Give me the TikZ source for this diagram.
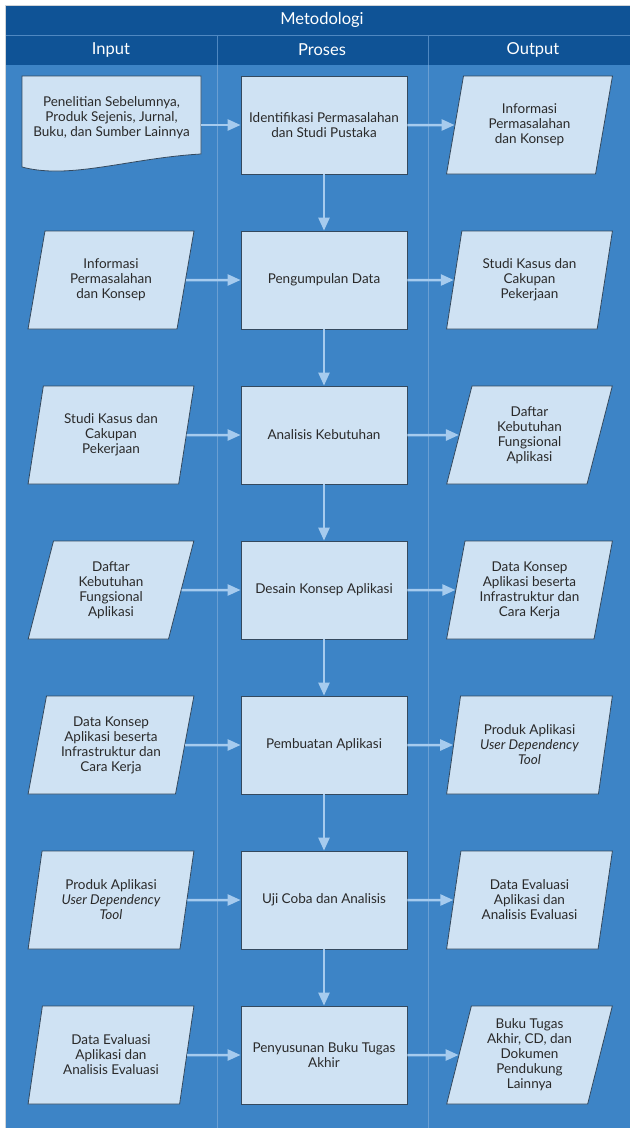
\documentclass[tikz,border=0pt]{standalone}
\usepackage{fontspec}
\setmainfont{Lato}
\usetikzlibrary{shapes.geometric,arrows.meta}

\definecolor{hdr}{HTML}{0F5396}
\definecolor{lane}{HTML}{3D84C6}
\definecolor{boxfill}{HTML}{CFE2F3}
\definecolor{boxline}{HTML}{34495E}
\definecolor{flow}{HTML}{A6CBEE}
\definecolor{sep}{HTML}{6A9FD3}
\definecolor{txt}{HTML}{2A2A2A}
\definecolor{frame}{HTML}{D0D4D8}

\begin{document}
\begin{tikzpicture}[x=1pt,y=-1pt,
  base/.style={fill=boxfill, draw=boxline, line width=0.8pt, text=txt,
    font=\fontsize{13.5}{15}\selectfont, align=center, inner sep=0pt},
  procbox/.style={base, rectangle, minimum width=166pt, minimum height=98pt},
  iobox/.style={base, trapezium, trapezium left angle=76, trapezium right angle=104,
    trapezium stretches=true, minimum width=166pt, minimum height=98pt},
  doctext/.style={text=txt, font=\fontsize{13.5}{15}\selectfont, align=center,
    minimum width=179pt, minimum height=80pt, inner sep=0pt},
  flowarr/.style={draw=flow, line width=2.5pt, -{Triangle[length=13pt,width=11pt]}},
  headtext/.style={text=white, font=\fontsize{16.5}{18}\selectfont},
  lanesep/.style={draw=sep, line width=0.6pt}
]
\useasboundingbox (0,0) rectangle (630,1128);

% lanes and headers
\fill[lane] (5,65) rectangle (630,1128);
\fill[hdr] (5,5) rectangle (630,65);
\draw[lanesep, draw=sep!70!hdr] (5,35) -- (630,35);
\draw[lanesep, draw=sep!70!hdr] (217,35) -- (217,65);
\draw[lanesep, draw=sep!70!hdr] (428,35) -- (428,65);
\draw[lanesep] (217,65) -- (217,1128);
\draw[lanesep] (428,65) -- (428,1128);
\draw[frame, line width=0.8pt] (5,1128) -- (5,5) -- (630,5);

\node[headtext] (title) at (322,20) {Metodologi};
\node[headtext] (hin) at (111,50) {Input};
\node[headtext] (hpro) at (322,50) {Proses};
\node[headtext] (hout) at (533,50) {Output};

% process column
\node[procbox] (c1) at (324,125) {Identifikasi Permasalahan\\dan Studi Pustaka};
\node[procbox] (c2) at (324,280) {Pengumpulan Data};
\node[procbox] (c3) at (324,435) {Analisis Kebutuhan};
\node[procbox] (c4) at (324,590) {Desain Konsep Aplikasi};
\node[procbox] (c5) at (324,745) {Pembuatan Aplikasi};
\node[procbox] (c6) at (324,900) {Uji Coba dan Analisis};
\node[procbox] (c7) at (324,1055) {Penyusunan Buku Tugas\\Akhir};

% output column
\node[iobox] (r1) at (529.5,125) {Informasi\\Permasalahan\\dan Konsep};
\node[iobox] (r2) at (529.5,280) {Studi Kasus dan\\Cakupan\\Pekerjaan};
\node[iobox] (r3) at (529.5,435) {Daftar\\Kebutuhan\\Fungsional\\Aplikasi};
\node[iobox] (r4) at (529.5,590) {Data Konsep\\Aplikasi beserta\\Infrastruktur dan\\Cara Kerja};
\node[iobox] (r5) at (529.5,745) {Produk Aplikasi\\\textit{User Dependency}\\\textit{Tool}};
\node[iobox] (r6) at (529.5,900) {Data Evaluasi\\Aplikasi dan\\Analisis Evaluasi};
\node[iobox] (r7) at (529.5,1055) {Buku Tugas\\Akhir, CD, dan\\Dokumen\\Pendukung\\Lainnya};

% input column: document shape with wavy bottom
\coordinate (dnw) at (22,76);
\coordinate (dne) at (201,76);
\fill[boxfill] (dnw) -- (dne) -- (201,154)
  .. controls (130,158) and (70,180) .. (22,167) -- cycle;
\draw[boxline, line width=0.8pt] (dnw) -- (dne) -- (201,154)
  .. controls (130,158) and (70,180) .. (22,167) -- cycle;
\node[doctext] (d1) at (111.5,118) {Penelitian Sebelumnya,\\Produk Sejenis, Jurnal,\\Buku, dan Sumber Lainnya};

\node[iobox] (l2) at (111,280) {Informasi\\Permasalahan\\dan Konsep};
\node[iobox] (l3) at (111,435) {Studi Kasus dan\\Cakupan\\Pekerjaan};
\node[iobox] (l4) at (111,590) {Daftar\\Kebutuhan\\Fungsional\\Aplikasi};
\node[iobox] (l5) at (111,745) {Data Konsep\\Aplikasi beserta\\Infrastruktur dan\\Cara Kerja};
\node[iobox] (l6) at (111,900) {Produk Aplikasi\\\textit{User Dependency}\\\textit{Tool}};
\node[iobox] (l7) at (111,1055) {Data Evaluasi\\Aplikasi dan\\Analisis Evaluasi};

% flows
\draw[flowarr] (d1.east |- c1.west) -- (c1.west);
\foreach \i in {2,...,7} { \draw[flowarr] (l\i) -- (c\i); }
\foreach \i in {1,...,7} { \draw[flowarr] (c\i) -- (r\i); }
\foreach \i/\j in {1/2,2/3,3/4,4/5,5/6,6/7} { \draw[flowarr] (c\i) -- (c\j); }
\end{tikzpicture}
\end{document}
